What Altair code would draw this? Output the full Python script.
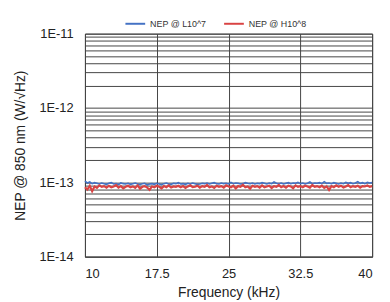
import altair as alt
import numpy as np
import pandas as pd

# NEP values in units of 1e-14 W/sqrt(Hz), sampled evenly from 10 to 40 kHz
blue_nep = [10.4, 9.8, 10.1, 9.6, 9.9, 9.7, 9.5, 9.8, 9.6, 9.4, 9.7, 9.9, 9.5, 9.6, 9.3, 9.8, 9.6, 9.5, 9.7, 9.4,
            9.6, 9.8, 9.5, 9.3, 9.6, 9.7, 9.2, 9.5, 9.6, 9.4, 9.7, 9.5, 9.3, 9.6, 9.8, 9.5, 9.4, 9.7, 9.6, 9.9,
            9.5, 9.6, 9.4, 9.7, 9.5, 9.8, 9.6, 9.4, 9.5, 9.7, 9.6, 9.8, 9.5, 9.7, 9.9, 9.6, 9.5, 9.8, 9.6, 9.7,
            9.5, 10.0, 9.6, 9.8, 9.7, 9.5, 9.6, 9.9, 9.7, 9.6, 9.8, 9.5, 9.7, 9.6, 9.9, 9.7, 9.5, 9.8, 9.6, 10.1,
            9.7, 9.6, 9.8, 9.5, 9.7, 9.9, 9.6, 9.8, 9.7, 10.0, 9.6, 9.8, 9.5, 9.7, 10.1, 9.6, 9.8, 9.7, 9.9, 9.6,
            10.2, 9.7, 9.8, 9.6, 9.9, 9.7, 9.5, 9.8, 9.6, 10.0, 9.7, 9.9, 9.6, 9.8, 10.2, 9.7, 9.9, 9.6, 10.0, 9.8, 9.9]
red_nep = [8.6, 8.0, 9.0, 7.6, 8.8, 8.4, 9.1, 8.7, 8.9, 8.5, 9.0, 8.6, 8.8, 9.2, 8.5, 8.9, 8.3, 8.7, 9.0, 8.6,
           8.8, 8.4, 9.1, 8.2, 8.7, 8.9, 8.5, 7.9, 8.8, 8.6, 9.0, 8.7, 8.3, 8.9, 8.6, 9.1, 8.5, 8.8, 8.7, 9.0,
           8.6, 8.9, 8.4, 8.8, 9.1, 8.6, 8.7, 9.0, 8.5, 8.9, 8.7, 9.2, 8.6, 8.8, 8.4, 9.0, 8.7, 8.9, 8.5, 9.1,
           8.8, 8.6, 9.0, 8.3, 8.9, 8.7, 9.3, 8.6, 8.8, 8.2, 9.0, 8.7, 8.9, 8.5, 9.1, 8.6, 8.8, 9.0, 8.4, 8.9,
           8.7, 9.2, 8.6, 8.9, 8.5, 9.0, 8.8, 8.3, 9.1, 8.7, 8.9, 8.6, 9.0, 8.8, 8.5, 9.2, 8.7, 8.9, 8.6, 9.0,
           8.4, 8.8, 7.9, 8.9, 8.6, 9.1, 8.7, 9.0, 8.5, 8.8, 9.2, 8.6, 8.9, 8.7, 9.0, 8.5, 8.9, 8.8, 9.1, 8.7, 8.9]
series_names = ["NEP @ L10^7", "NEP @ H10^8"]
series_colors = ["#4472C4", "#D94343"]
series_widths = [1.6, 2.2]
x_ticks = [10, 17.5, 25, 32.5, 40]

rows = []
for name, vals, w in zip(series_names, [blue_nep, red_nep], series_widths):
    xs = np.linspace(10, 40, len(vals))
    for f, v in zip(xs, vals):
        rows.append({"freq": float(f), "nep": v * 1e-14, "series": name, "w": w})
df = pd.DataFrame(rows)

y_vals = [m * 10.0 ** k for k in (-14, -13, -12) for m in range(1, 10)] + [1e-11]

label_expr = ("abs(log(datum.value)/LN10 - round(log(datum.value)/LN10)) < 0.001 ? "
              "'1E' + round(log(datum.value)/LN10) : ''")

chart = alt.Chart(df).mark_line().encode(
    x=alt.X("freq:Q", scale=alt.Scale(domain=[10, 40], nice=False, zero=False),
            axis=alt.Axis(values=x_ticks, title="Frequency (kHz)", grid=True,
                          labelExpr="datum.value", ticks=False, labelPadding=11, titlePadding=5)),
    y=alt.Y("nep:Q", scale=alt.Scale(type="log", domain=[1e-14, 1e-11], nice=False),
            axis=alt.Axis(values=y_vals, labelExpr=label_expr, title="NEP @ 850 nm (W/\u221aHz)",
                          grid=True, ticks=False, labelPadding=12, titlePadding=12)),
    color=alt.Color("series:N", scale=alt.Scale(domain=series_names, range=series_colors),
                    legend=alt.Legend(title=None, orient="none", legendX=40, legendY=-21,
                                      direction="horizontal", symbolType="stroke",
                                      symbolSize=400, symbolStrokeWidth=2,
                                      labelFont="Liberation Sans", labelFontSize=9,
                                      labelColor="#333", columnPadding=14)),
    strokeWidth=alt.StrokeWidth("w:Q", scale=None, legend=None),
).properties(
    width=291, height=226,
    padding={"left": 5, "top": 3, "right": 5, "bottom": 5},
).configure_axis(
    gridColor="#444", gridWidth=1, domainColor="#444",
    labelFont="Liberation Sans", titleFont="Liberation Sans",
    labelFontSize=13, titleFontSize=14, labelColor="#222", titleColor="#222",
    titleFontWeight="normal",
).configure_view(stroke="#444", strokeWidth=1)

chart.save("out.html", embed_options={"renderer": "svg", "actions": False})
